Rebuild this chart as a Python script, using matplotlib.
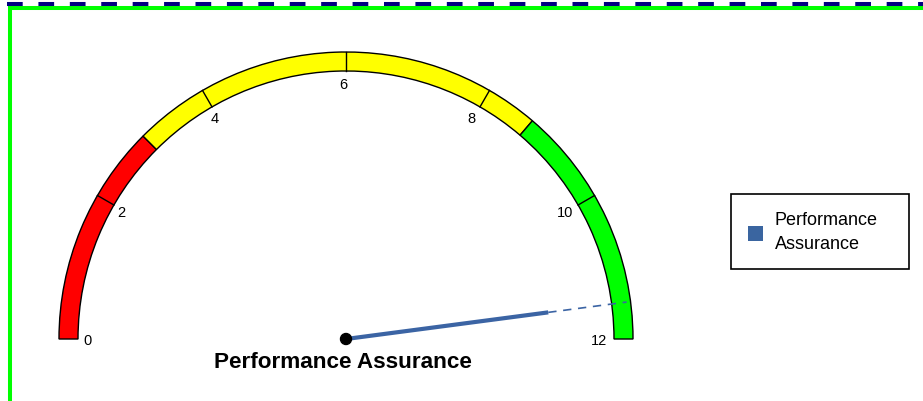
import numpy as np
import matplotlib
matplotlib.use("Agg")
import matplotlib.pyplot as plt
from matplotlib.patches import Wedge, Rectangle, Circle

plt.rcParams['font.family'] = ['Liberation Sans', 'DejaVu Sans']

# Data
gauge_min, gauge_max = 0, 12
band_starts = [0, 3, 8.7]
band_ends = [3, 8.7, 12]
band_colors = ['#FF0000', '#FFFF00', '#00FF00']
tick_values = [0, 2, 4, 6, 8, 10, 12]
tick_labels = ['0', '2', '4', '6', '8', '10', '12']
needle_value = 11.5
title = 'Performance Assurance'
legend_lines = ['Performance', 'Assurance']

W, H = 923, 402
fig = plt.figure(figsize=(W / 100, H / 100), dpi=100)
ax = fig.add_axes([0, 0, 1, 1])
ax.set_xlim(0, W)
ax.set_ylim(H, 0)
ax.axis('off')

cx, cy = 346, 340
r_out, r_in = 287, 268

def ang(v):
    return 180.0 - 180.0 * (v - gauge_min) / (gauge_max - gauge_min)

def pt(v, r):
    a = np.deg2rad(ang(v))
    return cx + r * np.cos(a), cy - r * np.sin(a)

# Bands (y axis inverted, so angles are mirrored: use negative angles)
for s, e, c in zip(band_starts, band_ends, band_colors):
    w = Wedge((cx, cy), r_out, -ang(s), -ang(e), width=r_out - r_in,
              facecolor=c, edgecolor='black', linewidth=1.0, zorder=2)
    ax.add_patch(w)

# Ticks and labels
for v, lab in zip(tick_values, tick_labels):
    if gauge_min < v < gauge_max:
        x0, y0 = pt(v, r_in)
        x1, y1 = pt(v, r_out)
        ax.plot([x0, x1], [y0, y1], color='black', lw=1.0, zorder=3)
    lx, ly = pt(v, 256)
    ax.text(lx - 3, ly + 1, lab, fontsize=10.5, ha='center', va='center', color='black', zorder=4)

# Needle
xs, ys = pt(needle_value, 204)
xe, ye = pt(needle_value, r_out - 4)
ax.plot([cx, xs], [cy, ys], color='#3B64A4', lw=3, solid_capstyle='butt', zorder=5)
ax.plot([xs, xe], [ys, ye], color='#3B64A4', lw=1.2, dashes=(5, 4), zorder=5)
ax.add_patch(Circle((cx, cy), 5.5, facecolor='black', edgecolor='black', zorder=6))

# Title
ax.text(343, 363, title, fontsize=16.2, fontweight='bold', ha='center', va='center')

# Legend
ax.add_patch(Rectangle((731, 195), 178, 75, facecolor='white', edgecolor='black', lw=1.2, zorder=2))
ax.add_patch(Rectangle((748, 227), 15, 15, facecolor='#3A65A0', edgecolor='none', zorder=3))
ax.text(775, 221, legend_lines[0], fontsize=13, ha='left', va='center', zorder=3)
ax.text(775, 245, legend_lines[1], fontsize=13, ha='left', va='center', zorder=3)

# Frame decorations
ax.plot([8, W], [9, 9], color='#00FF00', lw=2.9, solid_capstyle='butt', zorder=1)
ax.plot([10, 10], [7, H], color='#00FF00', lw=2.9, solid_capstyle='butt', zorder=1)
ax.plot([7, W], [5, 5], color='#000080', lw=2.9, dashes=(3.9, 3.9), solid_capstyle='butt', zorder=1)

fig.savefig('out.png', dpi=100)
